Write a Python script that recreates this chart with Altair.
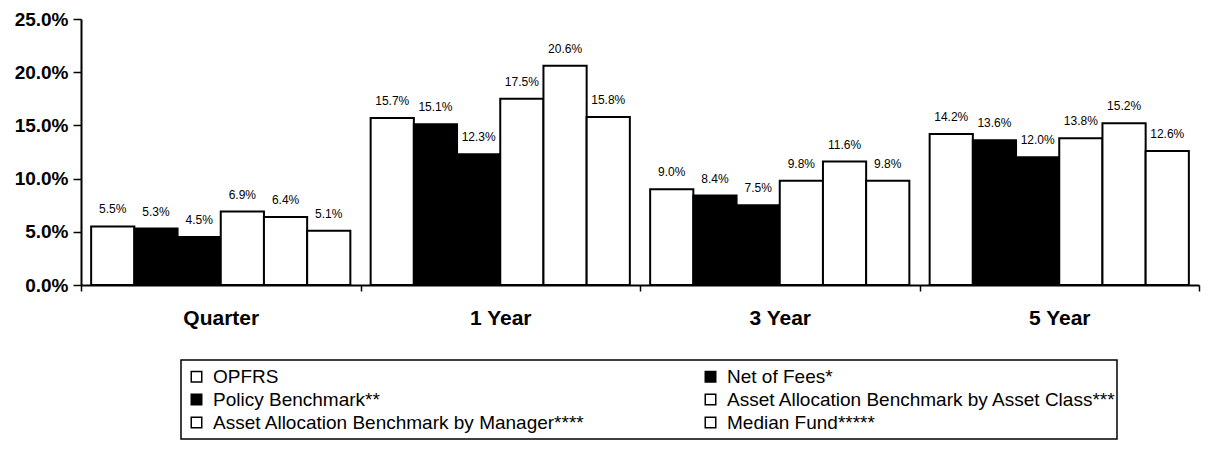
import altair as alt
import pandas as pd

groups = ["Quarter", "1 Year", "3 Year", "5 Year"]
series = [
    "OPFRS",
    "Net of Fees*",
    "Policy Benchmark**",
    "Asset Allocation Benchmark by Asset Class***",
    "Asset Allocation Benchmark by Manager****",
    "Median Fund*****",
]
opfrs = [5.5, 15.7, 9.0, 14.2]
net_of_fees = [5.3, 15.1, 8.4, 13.6]
policy_benchmark = [4.5, 12.3, 7.5, 12.0]
aa_by_class = [6.9, 17.5, 9.8, 13.8]
aa_by_manager = [6.4, 20.6, 11.6, 15.2]
median_fund = [5.1, 15.8, 9.8, 12.6]
fills = ["white", "black", "black", "white", "white", "white"]
y_ticks = [0, 5, 10, 15, 20, 25]

rows = []
for s, vals in zip(series, [opfrs, net_of_fees, policy_benchmark, aa_by_class, aa_by_manager, median_fund]):
    for g, v in zip(groups, vals):
        rows.append({"group": g, "series": s, "value": v})
df = pd.DataFrame(rows)

FONT = "Liberation Sans"

base = alt.Chart(df).encode(
    x=alt.X(
        "group:N",
        sort=groups,
        scale=alt.Scale(paddingInner=0, paddingOuter=0),
        axis=alt.Axis(
            title=None, labelAngle=0, labelFont=FONT, labelFontWeight="bold",
            labelFontSize=21, labelColor="black", labelBaseline="top",
            domainColor="black", domainWidth=2, tickColor="black", tickSize=6,
            tickWidth=1.5, tickBand="extent", labelPadding=16,
        ),
    ),
    xOffset=alt.XOffset("series:N", sort=series, scale=alt.Scale(paddingInner=0, paddingOuter=0.235)),
    y=alt.Y(
        "value:Q",
        scale=alt.Scale(domain=[0, 25], nice=False),
        axis=alt.Axis(
            title=None, values=y_ticks, grid=False,
            labelExpr="format(datum.value, '.1f') + '%'",
            labelFont=FONT, labelFontWeight="bold", labelFontSize=19, labelColor="black",
            domainColor="black", domainWidth=2, tickColor="black", tickSize=8,
            tickWidth=1.5, labelPadding=5,
        ),
    ),
)

bars = base.mark_bar(stroke="black", strokeWidth=2).encode(
    color=alt.Color(
        "series:N",
        sort=series,
        scale=alt.Scale(domain=series, range=fills),
        legend=alt.Legend(
            title=None, orient="none", legendX=106, legendY=348, columns=2,
            direction="horizontal",
            columnPadding=116, rowPadding=3, padding=0,
            symbolType="square", symbolSize=110, symbolStrokeColor="black",
            symbolStrokeWidth=1.5, labelFont=FONT, labelFontSize=19,
            labelColor="black", labelLimit=0, labelOffset=7,
        ),
    ),
)

labels = base.mark_text(font=FONT, fontSize=12, baseline="middle", dy=-17, color="black").transform_calculate(
    label="format(datum.value, '.1f') + '%'"
).encode(text="label:N")

box = alt.Chart(pd.DataFrame({"box": [0]})).mark_rect(
    fill=None, stroke="black", strokeWidth=1.5
).encode(
    x=alt.value(100), x2=alt.value(1036), y=alt.value(341), y2=alt.value(420)
)

chart = alt.layer(bars, labels, box).properties(
    width=1118, height=266,
    padding={"left": 6, "top": 2, "right": 2, "bottom": 2},
    background="white",
).configure_view(stroke=None)

chart.save("out.html", embed_options={"renderer": "svg", "actions": False})
